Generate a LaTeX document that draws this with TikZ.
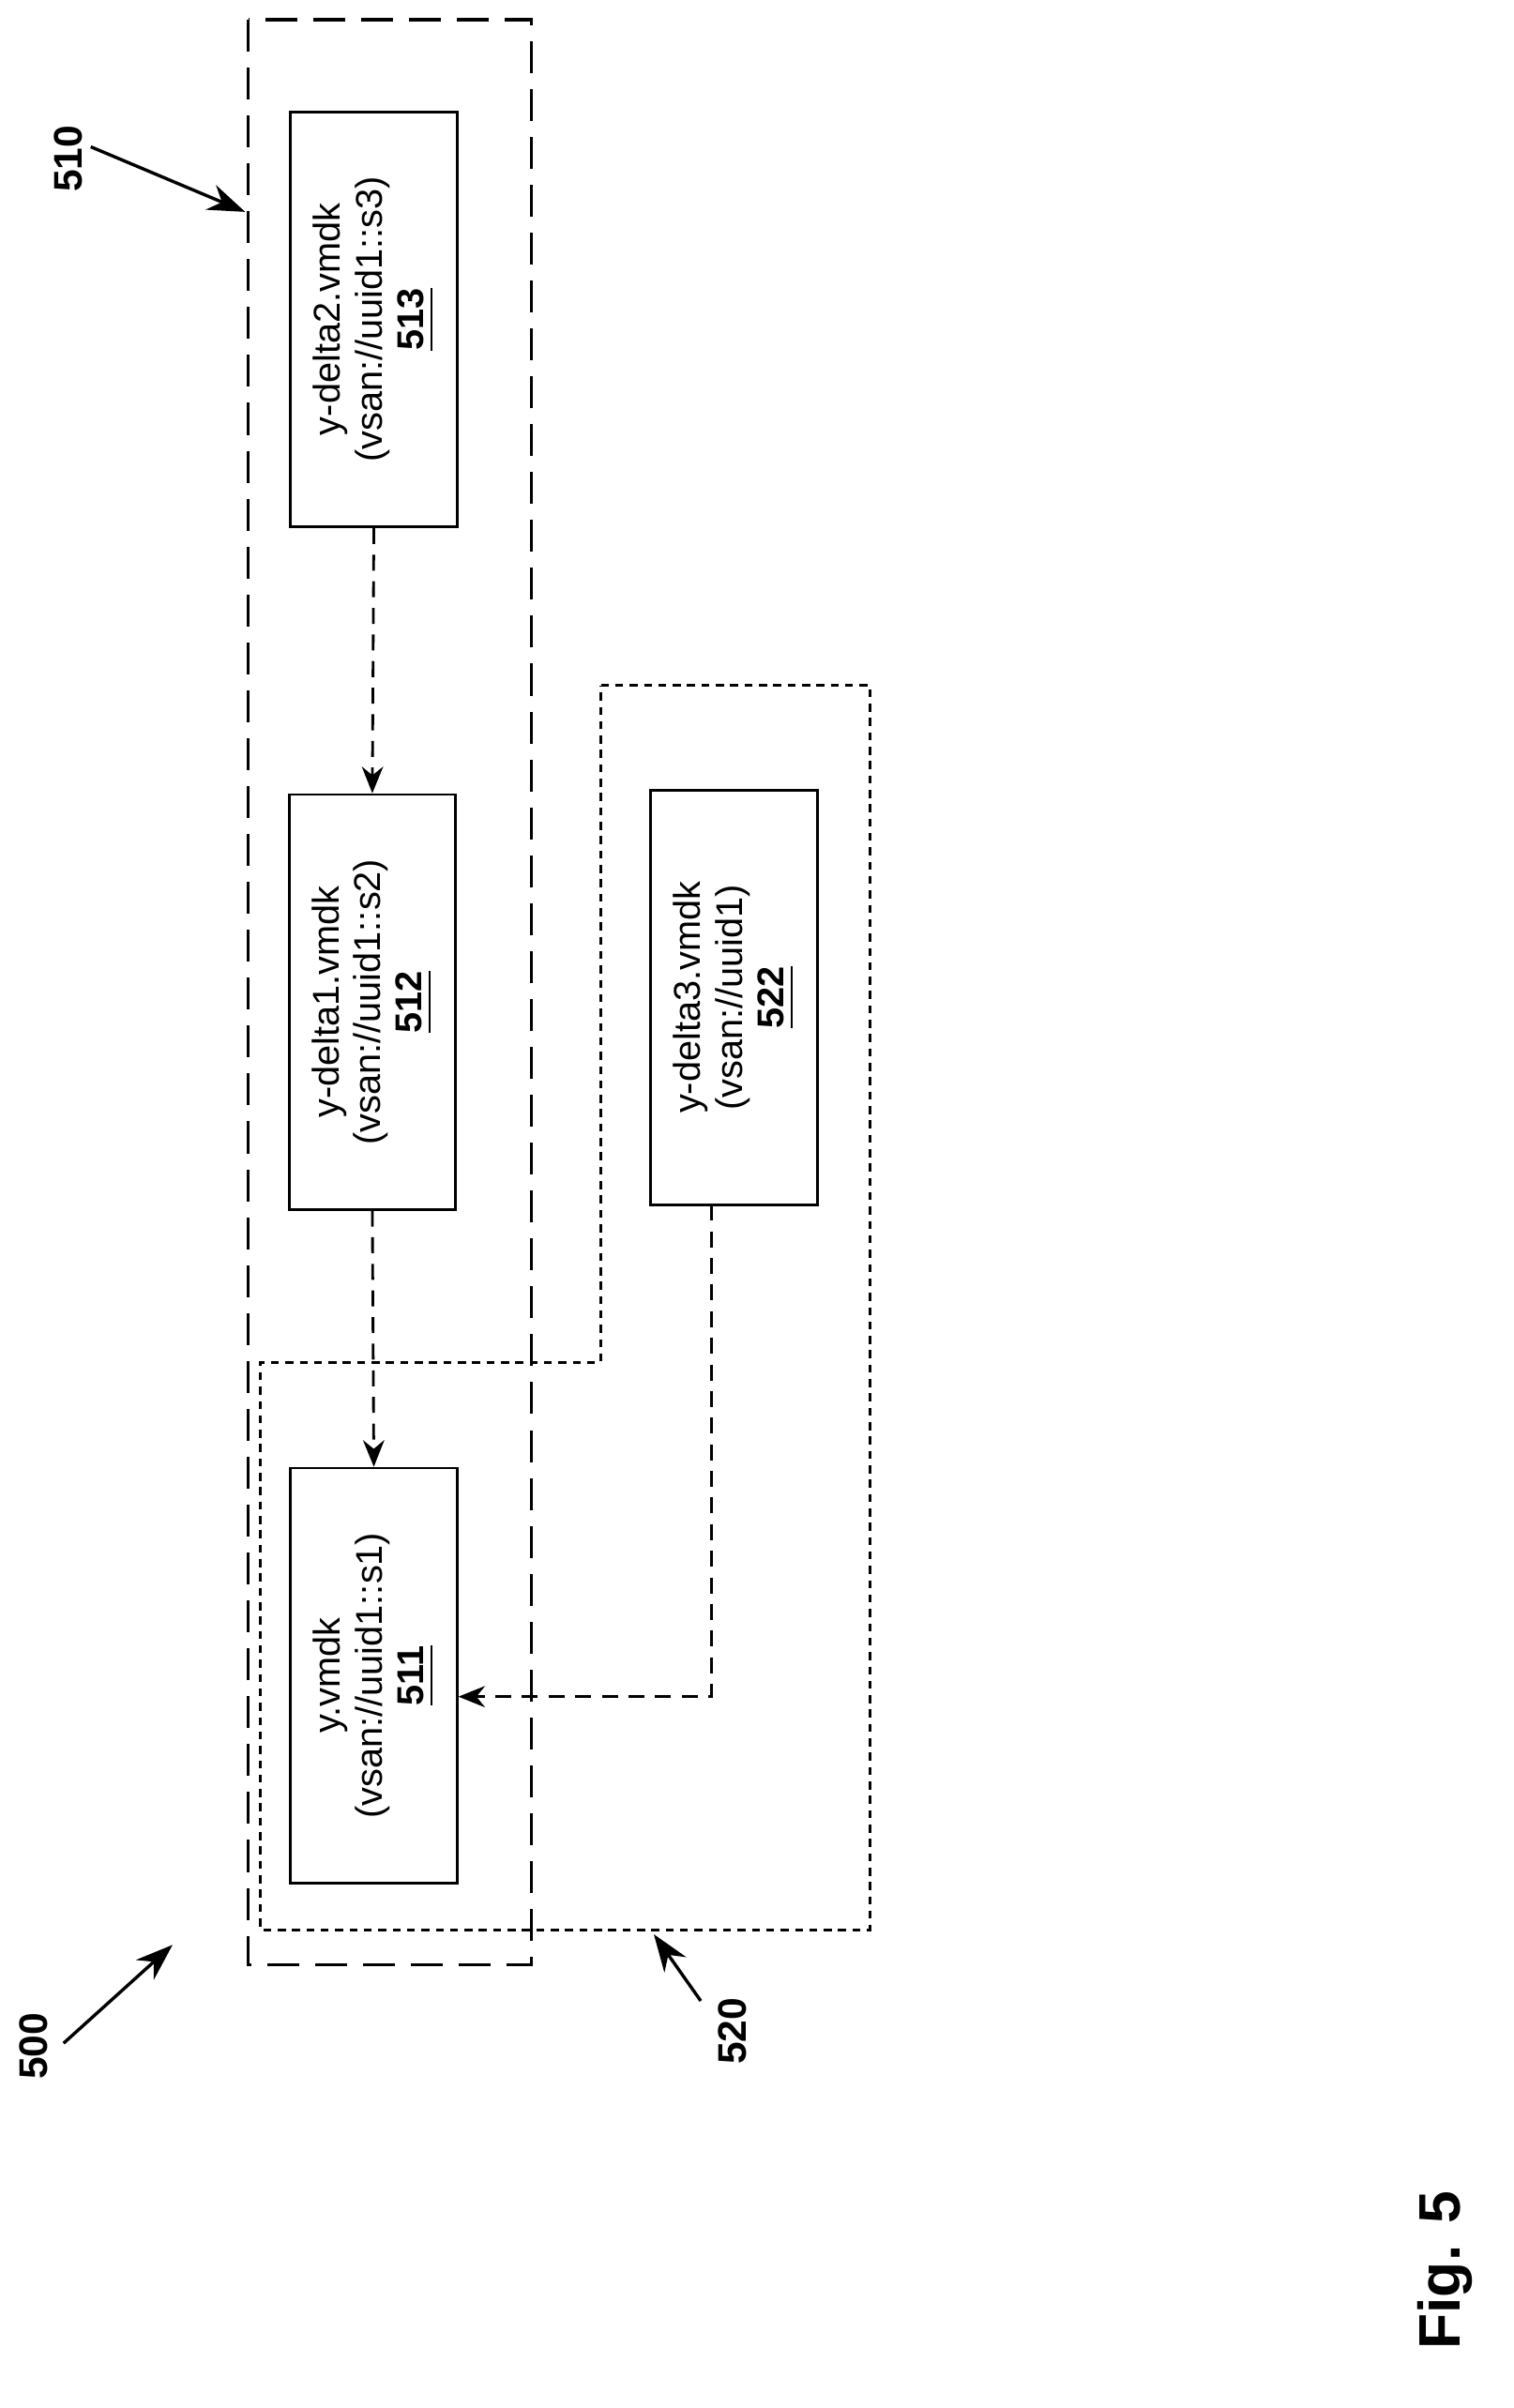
\documentclass[tikz,border=0pt]{standalone}
\usepackage{fontspec}
\setmainfont{Liberation Sans}
\usetikzlibrary{arrows.meta}
\begin{document}
\begin{tikzpicture}[x=0.01cm,y=-0.01cm,
  box/.style={draw,line width=0.5pt,minimum width=274*0.01cm,minimum height=110*0.01cm,rotate=90,align=center,font=\fontsize{7}{7.8}\selectfont,inner sep=0pt},
  conn/.style={draw,line width=0.5pt,dash pattern=on 3pt off 2pt,-{Stealth[length=5pt,width=4pt]}},
  lbl/.style={font=\bfseries\fontsize{7.5}{8}\selectfont,rotate=90},
  ptr/.style={line width=0.6pt,-{Stealth[length=7pt,width=5pt]}}]
\useasboundingbox (0,0) rectangle (1000,1591);
\draw[line width=0.6pt,dash pattern=on 6pt off 3pt] (164,13) rectangle (351,1298);
\draw[line width=0.5pt,dash pattern=on 1.5pt off 1.2pt] (397,453) -- (575,453) -- (575,1275) -- (172,1275) -- (172,900) -- (397,900) -- cycle;
\node[box] (b513) at (247,211) {y-delta2.vmdk\\(vsan://uuid1::s3)\\\textbf{\underline{513}}};
\node[box] (b512) at (246,662) {y-delta1.vmdk\\(vsan://uuid1::s2)\\\textbf{\underline{512}}};
\node[box] (b511) at (247,1107) {y.vmdk\\(vsan://uuid1::s1)\\\textbf{\underline{511}}};
\node[box] (b522) at (485,659) {y-delta3.vmdk\\(vsan://uuid1)\\\textbf{\underline{522}}};
\draw[conn] (b513.west) -- (b512.east);
\draw[conn] (b512.west) -- (b511.east);
\coordinate (c1) at (470,1121);
\draw[conn] (470,796) -- (c1) -- (b511.south |- c1);
\node[lbl] (l510) at (45,105) {510};
\node[lbl] (l500) at (22,1352) {500};
\node[lbl] (l520) at (484,1342) {520};
\node[font=\bfseries\fontsize{11}{12}\selectfont,rotate=90] (fig) at (955,1500) {Fig. 5};
\coordinate (a510) at (162,140);
\coordinate (a500) at (114,1285);
\coordinate (a520) at (432,1278);
\draw[ptr] (60,97) -- (a510);
\draw[ptr] (42,1350) -- (a500);
\draw[ptr] (463,1322) -- (a520);
\end{tikzpicture}
\end{document}
